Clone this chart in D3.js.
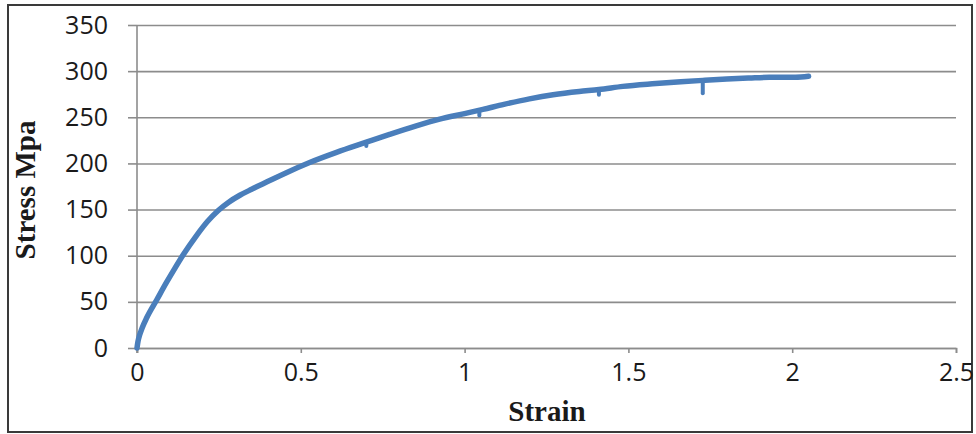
<!DOCTYPE html>
<html>
<head>
<meta charset="utf-8">
<script src="https://cdn.jsdelivr.net/npm/d3@7"></script>
<style>
  body { margin: 0; background: #fff; }
  .grid line { stroke: #8c8c8c; stroke-width: 1.6px; }
  .grid path { display: none; }
  .tick text { font-family: "Open Sans", sans-serif; font-size: 25px; fill: #1a1a1a; }
</style>
</head>
<body>
<div id="plot"></div>
<script>
var svgWidth = 976;
var svgHeight = 434;

// plot area in page pixels
var margin = { top: 25, right: 20, bottom: 86, left: 137 };
var width = svgWidth - margin.left - margin.right;
var height = svgHeight - margin.top - margin.bottom;

// data
var strain = [0, 0.003, 0.008, 0.016, 0.03, 0.06, 0.09, 0.115, 0.141, 0.18, 0.215, 0.248, 0.28, 0.314, 0.35, 0.385, 0.42, 0.456, 0.527, 0.609, 0.7, 0.771, 0.85, 0.924, 1.0, 1.056, 1.12, 1.198, 1.27, 1.35, 1.41, 1.483, 1.584, 1.66, 1.727, 1.8, 1.869, 1.93, 1.97, 2.01, 2.05];
var stress = [0, 7, 14, 22, 33, 52, 71, 86, 101, 121, 137, 149, 158, 165.5, 172, 178, 184, 190, 201, 212, 223, 231.5, 240.5, 248, 254, 258.5, 264, 270, 274.5, 278, 280, 283.5, 286.5, 288.5, 290, 291.5, 292.5, 293.3, 293.5, 293.5, 294.5];

// short downward glitches on the recorded curve
var glitchStrain = [0.7, 1.045, 1.41, 1.727];
var glitchTop = [223, 257.5, 280, 290];
var glitchBottom = [219, 252, 274.5, 276];

var xTicks = [0, 0.5, 1, 1.5, 2, 2.5];
var yTicks = [0, 50, 100, 150, 200, 250, 300, 350];

var data = strain.map(function(s, i) { return { strain: s, stress: stress[i] }; });

var svg = d3.select("#plot")
  .append("svg")
  .attr("width", svgWidth)
  .attr("height", svgHeight);

// outer frame
svg.append("rect")
  .attr("x", 8).attr("y", 5)
  .attr("width", 964).attr("height", 427)
  .attr("fill", "none")
  .attr("stroke", "#3a3a3a")
  .attr("stroke-width", 2);

var chartGroup = svg.append("g")
  .attr("transform", `translate(${margin.left}, ${margin.top})`);

var xScale = d3.scaleLinear().domain([0, 2.5]).range([0, width]);
var yScale = d3.scaleLinear().domain([0, 350]).range([height, 0]);

// horizontal gridlines with little ticks out to the left
chartGroup.append("g")
  .attr("class", "grid")
  .call(d3.axisLeft(yScale).tickValues(yTicks).tickSize(-width).tickFormat(""));
chartGroup.append("g")
  .attr("class", "grid")
  .call(d3.axisLeft(yScale).tickValues(yTicks).tickSize(9).tickFormat(""));

// y tick labels
var leftAxis = d3.axisLeft(yScale).tickValues(yTicks).tickSize(0).tickPadding(29);
chartGroup.append("g").call(leftAxis).call(g => g.select(".domain").remove());

// y axis line
chartGroup.append("line")
  .attr("x1", 0).attr("x2", 0)
  .attr("y1", 0).attr("y2", height + 5)
  .attr("stroke", "#8c8c8c").attr("stroke-width", 1.6);

// x axis
var bottomAxis = d3.axisBottom(xScale).tickValues(xTicks).tickSize(5).tickPadding(10)
  .tickFormat(d3.format("~g"));
var xAxisG = chartGroup.append("g")
  .attr("transform", `translate(0, ${height})`)
  .call(bottomAxis);
xAxisG.select(".domain").attr("stroke", "#8c8c8c").attr("stroke-width", 1.6);
xAxisG.selectAll(".tick line").attr("stroke", "#8c8c8c").attr("stroke-width", 1.6);

// curve
var line = d3.line()
  .curve(d3.curveMonotoneX)
  .x(d => xScale(d.strain))
  .y(d => yScale(d.stress));
chartGroup.append("path")
  .datum(data)
  .attr("d", line)
  .attr("fill", "none")
  .attr("stroke", "#4a7ebb")
  .attr("stroke-width", 5.5)
  .attr("stroke-linejoin", "round")
  .attr("stroke-linecap", "round");

// glitches
chartGroup.selectAll(".glitch")
  .data(glitchStrain)
  .enter()
  .append("line")
  .attr("class", "glitch")
  .attr("x1", d => xScale(d))
  .attr("x2", d => xScale(d))
  .attr("y1", (d, i) => yScale(glitchTop[i]))
  .attr("y2", (d, i) => yScale(glitchBottom[i]))
  .attr("stroke", "#4a7ebb")
  .attr("stroke-width", 4)
  .attr("stroke-linecap", "round");

// axis titles
svg.append("text")
  .attr("x", 547)
  .attr("y", 421)
  .attr("text-anchor", "middle")
  .attr("font-family", "'Liberation Serif', serif")
  .attr("font-weight", "bold")
  .attr("font-size", "29px")
  .attr("fill", "#1a1a1a")
  .text("Strain");

svg.append("text")
  .attr("transform", "translate(35, 190) rotate(-90)")
  .attr("text-anchor", "middle")
  .attr("font-family", "'Liberation Serif', serif")
  .attr("font-weight", "bold")
  .attr("font-size", "29px")
  .attr("fill", "#1a1a1a")
  .text("Stress Mpa");
</script>
</body>
</html>
